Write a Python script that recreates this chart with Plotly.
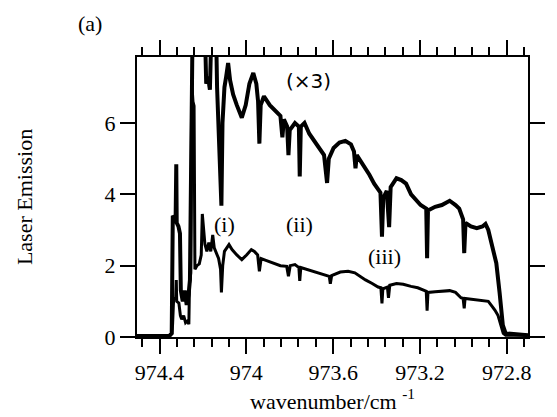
import plotly.graph_objects as go

# ---- data ----
wn_lower = [974.504, 974.355, 974.344, 974.340, 974.335, 974.326, 974.323, 974.321, 974.311, 974.304,
            974.298, 974.289, 974.280, 974.271, 974.265, 974.262, 974.256, 974.252, 974.246, 974.241,
            974.237, 974.228, 974.217, 974.208, 974.203, 974.197, 974.191, 974.182, 974.173, 974.164,
            974.155, 974.148, 974.139, 974.128, 974.119, 974.115, 974.109, 974.101, 974.080, 974.066,
            974.044, 974.021, 973.999, 973.977, 973.963, 973.948, 973.940, 973.932, 973.910, 973.888,
            973.865, 973.843, 973.814, 973.806, 973.798, 973.776, 973.758, 973.754, 973.749, 973.723,
            973.696, 973.665, 973.638, 973.618, 973.613, 973.607, 973.567, 973.531, 973.500, 973.478,
            973.451, 973.420, 973.393, 973.380, 973.375, 973.371, 973.350, 973.345, 973.339, 973.308,
            973.277, 973.241, 973.210, 973.178, 973.171, 973.167, 973.163, 973.130, 973.099, 973.063,
            973.036, 973.011, 973.001, 972.996, 972.992, 972.952, 972.921, 972.885, 972.870, 972.854,
            972.840, 972.827, 972.816, 972.805, 972.702]
lower = [0.03, 0.03, 0.10, 0.35, 1.10, 1.05, 1.60, 1.00, 0.95, 0.60,
         0.50, 0.60, 0.40, 0.45, 0.36, 1.50, 1.80, 7.17, 6.60, 6.48,
         1.90, 2.00, 2.05, 2.30, 3.45, 2.90, 2.60, 2.40, 2.65, 2.40,
         2.86, 2.50, 2.35, 2.20, 1.90, 1.25, 2.00, 2.40, 2.59, 2.45,
         2.30, 2.17, 2.30, 2.45, 2.40, 2.30, 1.84, 2.20, 2.15, 2.10,
         2.05, 2.00, 1.98, 1.70, 2.00, 2.03, 1.95, 1.57, 1.95, 1.90,
         1.85, 1.80, 1.75, 1.70, 1.49, 1.72, 1.82, 1.84, 1.80, 1.70,
         1.60, 1.50, 1.40, 1.38, 0.94, 1.35, 1.40, 1.10, 1.45, 1.50,
         1.48, 1.42, 1.38, 1.30, 1.28, 0.74, 1.25, 1.27, 1.28, 1.30,
         1.25, 1.10, 1.08, 0.80, 1.08, 1.05, 1.02, 1.00, 0.88, 0.75,
         0.60, 0.30, 0.10, 0.05, 0.05]

wn_upper = [974.504, 974.355, 974.344, 974.339, 974.326, 974.323, 974.321, 974.313, 974.306, 974.302,
            974.293, 974.284, 974.275, 974.266, 974.260, 974.252, 974.248, 974.191, 974.185, 974.177,
            974.168, 974.162, 974.139, 974.135, 974.128, 974.119, 974.115, 974.110, 974.101, 974.093,
            974.084, 974.075, 974.061, 974.044, 974.021, 974.003, 973.986, 973.968, 973.954, 973.946,
            973.940, 973.934, 973.919, 973.892, 973.865, 973.843, 973.834, 973.827, 973.812, 973.806,
            973.800, 973.776, 973.758, 973.754, 973.749, 973.732, 973.710, 973.687, 973.665, 973.642,
            973.628, 973.620, 973.598, 973.571, 973.544, 973.518, 973.504, 973.497, 973.491, 973.464,
            973.433, 973.411, 973.382, 973.375, 973.369, 973.353, 973.342, 973.335, 973.308, 973.286,
            973.264, 973.241, 973.219, 973.197, 973.171, 973.167, 973.163, 973.130, 973.099, 973.063,
            973.036, 973.019, 973.001, 972.996, 972.990, 972.965, 972.938, 972.912, 972.898, 972.885,
            972.870, 972.848, 972.833, 972.818, 972.805, 972.702]
upper = [0.03, 0.03, 0.10, 3.40, 3.30, 4.84, 3.20, 3.10, 2.90, 1.30,
         1.00, 1.30, 0.90, 1.20, 1.60, 7.17, 8.60, 8.60, 7.10, 7.30,
         6.93, 8.40, 8.40, 7.00, 6.00, 4.80, 3.68, 6.00, 7.00, 7.30,
         7.68, 7.20, 6.80, 6.50, 6.15, 6.50, 7.10, 7.40, 7.10, 6.60,
         5.42, 6.50, 6.75, 6.50, 6.35, 6.20, 5.60, 6.10, 5.90, 5.10,
         5.80, 6.00, 5.90, 4.50, 5.90, 6.00, 5.70, 5.50, 5.30, 5.10,
         4.32, 5.00, 5.30, 5.45, 5.50, 5.40, 5.20, 4.73, 5.10, 4.85,
         4.55, 4.30, 4.05, 2.81, 3.90, 4.10, 3.08, 4.20, 4.45, 4.40,
         4.30, 4.00, 3.85, 3.70, 3.60, 2.21, 3.55, 3.65, 3.70, 3.82,
         3.70, 3.60, 3.30, 2.35, 3.20, 3.10, 3.05, 3.10, 3.17, 3.00,
         2.62, 2.07, 1.25, 0.33, 0.10, 0.05]

x_ticks = [974.4, 974.0, 973.6, 973.2, 972.8]
x_ticklabels = ["974.4", "974", "973.6", "973.2", "972.8"]
y_ticks = [0, 2, 4, 6]
y_ticklabels = ["0", "2", "4", "6"]

labels_text = ["(i)", "(ii)", "(iii)"]
labels_x = [974.099, 973.756, 973.363]
labels_y = [3.165, 3.165, 2.243]

SERIF = "Liberation Serif, Times New Roman, serif"

fig = go.Figure()
fig.add_trace(go.Scatter(x=wn_upper, y=upper, mode="lines",
                         line=dict(color="black", width=4), hoverinfo="skip"))
fig.add_trace(go.Scatter(x=wn_lower, y=lower, mode="lines",
                         line=dict(color="black", width=3), hoverinfo="skip"))

for t, xx, yy in zip(labels_text, labels_x, labels_y):
    fig.add_annotation(x=xx, y=yy, text=t, showarrow=False,
                       xanchor="center", yanchor="middle",
                       font=dict(family=SERIF, size=22, color="black"))

fig.add_annotation(x=973.714, y=7.165, text="(×3)", showarrow=False,
                   xanchor="center", yanchor="middle",
                   font=dict(family="DejaVu Sans", size=20, color="black"))
fig.add_annotation(x=-0.1205, y=1.118, xref="paper", yref="paper", text="(a)",
                   showarrow=False, xanchor="center", yanchor="middle",
                   font=dict(family=SERIF, size=22, color="black"))

fig.update_xaxes(range=[974.504, 972.702], tickmode="array", tickvals=x_ticks,
                 ticktext=x_ticklabels, ticks="outside", ticklen=15, tickwidth=2,
                 tickcolor="black", showline=True, linewidth=2, linecolor="black",
                 mirror="allticks", showgrid=False, zeroline=False,
                 minor=dict(dtick=0.08, tick0=972.8, ticks="outside", ticklen=8,
                            tickwidth=2, tickcolor="black", showgrid=False),
                 title=dict(text="wavenumber/cm <sup>-1</sup>", standoff=4,
                            font=dict(family=SERIF, size=22, color="black")),
                 tickfont=dict(family=SERIF, size=22, color="black"))
fig.update_yaxes(range=[0, 7.85], tickmode="array", tickvals=y_ticks,
                 ticktext=y_ticklabels, ticks="outside", ticklen=15, tickwidth=2,
                 tickcolor="black", showline=True, linewidth=2, linecolor="black",
                 mirror="allticks", showgrid=False, zeroline=False,
                 title=dict(text="Laser Emission", standoff=66,
                            font=dict(family=SERIF, size=22, color="black")),
                 tickfont=dict(family=SERIF, size=22, color="black"))

fig.update_layout(width=557, height=417, margin=dict(l=137, r=16, t=57, b=75),
                  showlegend=False, plot_bgcolor="white", paper_bgcolor="white",
                  font=dict(family=SERIF, size=22, color="black"))

fig.write_html("out.html")
